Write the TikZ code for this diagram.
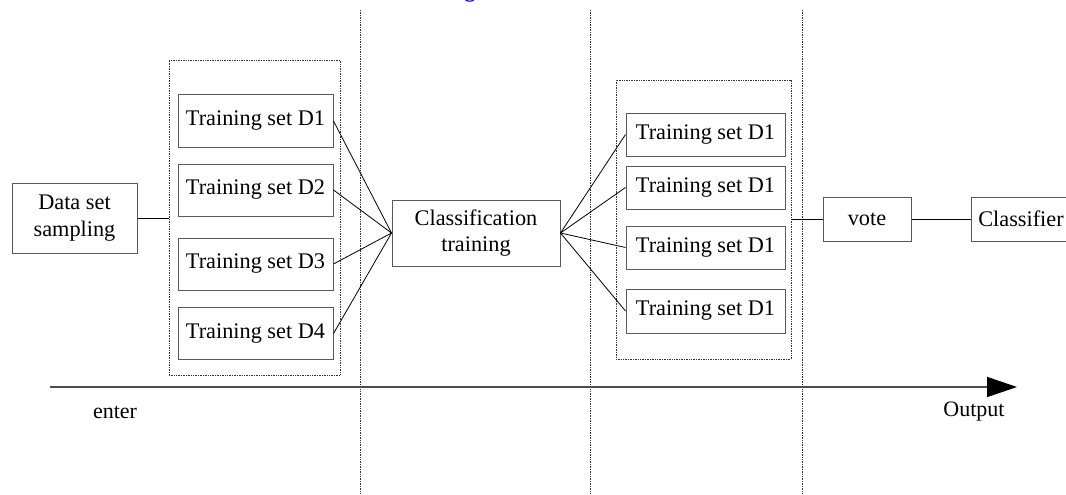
\documentclass[tikz,border=0pt]{standalone}
\usepackage{fontspec}
\setmainfont{Liberation Serif}
\usetikzlibrary{arrows.meta}
\begin{document}
\begin{tikzpicture}[x=1pt,y=-1pt,
  box/.style={draw=black!65,line width=1pt,inner sep=0pt,align=center,
    font=\fontsize{22.3}{26.5}\selectfont},
  container/.style={draw=black!80,densely dotted,line width=0.7pt},
  sep/.style={draw=black!80,densely dotted,line width=0.7pt},
  conn/.style={draw=black,line width=0.8pt},
  lbl/.style={font=\fontsize{22}{25}\selectfont,inner sep=0pt}]
\useasboundingbox (0,0) rectangle (1066,495);
% cut-off blue heading fragment
\node[anchor=base,text=blue,inner sep=0pt,font=\fontsize{21.5}{25}\selectfont\bfseries] (head) at (470,-2) {g};
% vertical separators
\coordinate (s1t) at (360,10); \coordinate (s1b) at (360,495);
\coordinate (s2t) at (590,10); \coordinate (s2b) at (590,495);
\coordinate (s3t) at (802,10); \coordinate (s3b) at (802,495);
\draw[sep] (s1t) -- (s1b);
\draw[sep] (s2t) -- (s2b);
\draw[sep] (s3t) -- (s3b);
% containers
\node[container,minimum width=171pt,minimum height=315pt,inner sep=0pt] (lc) at (254.5,217.5) {};
\node[container,minimum width=175pt,minimum height=279pt,inner sep=0pt] (rc) at (703.5,219.5) {};
% nodes
\node[box,minimum width=125pt,minimum height=70pt] (ds) at (74.5,218) {Data set\\sampling};
\node[box,minimum width=155pt,minimum height=52pt] (l1) at (255.5,121) {Training set D1};
\node[box,minimum width=155pt,minimum height=52pt] (l2) at (255.5,190) {Training set D2};
\node[box,minimum width=155pt,minimum height=52pt] (l3) at (255.5,264) {Training set D3};
\node[box,minimum width=155pt,minimum height=52pt] (l4) at (255.5,333.5) {Training set D4};
\node[box,minimum width=168pt,minimum height=66pt] (ct) at (476,233) {Classification\\training};
\node[box,minimum width=159pt,minimum height=43pt] (r1) at (705.5,134.5) {Training set D1};
\node[box,minimum width=159pt,minimum height=43pt] (r2) at (705.5,187.5) {Training set D1};
\node[box,minimum width=159pt,minimum height=43pt] (r3) at (705.5,247.5) {Training set D1};
\node[box,minimum width=159pt,minimum height=44pt] (r4) at (705.5,311) {Training set D1};
\node[box,minimum width=88pt,minimum height=44pt] (vote) at (867,219) {vote};
\node[box,minimum width=100pt,minimum height=44pt] (cls) at (1021,219) {Classifier};
% connectors
\draw[conn] (ds.east) -- (ds.east -| lc.west);
\foreach \n in {l1,l2,l3,l4} \draw[conn] (\n.east) -- (ct.west);
\foreach \n in {r1,r2,r3,r4} \draw[conn] (ct.east) -- (\n.west);
\draw[conn] (vote.west -| rc.east) -- (vote.west);
\draw[conn] (vote.east) -- (cls.west);
% time axis
\coordinate (ax0) at (50,387);
\coordinate (ax1) at (1017,387);
\draw[black!70,line width=1.6pt,-{Triangle[length=30pt,width=20pt,fill=black,color=black]}] (ax0) -- (ax1);
\node[lbl] (enter) at (115,412) {enter};
\node[lbl] (out) at (974,412) {Output};
\end{tikzpicture}
\end{document}
